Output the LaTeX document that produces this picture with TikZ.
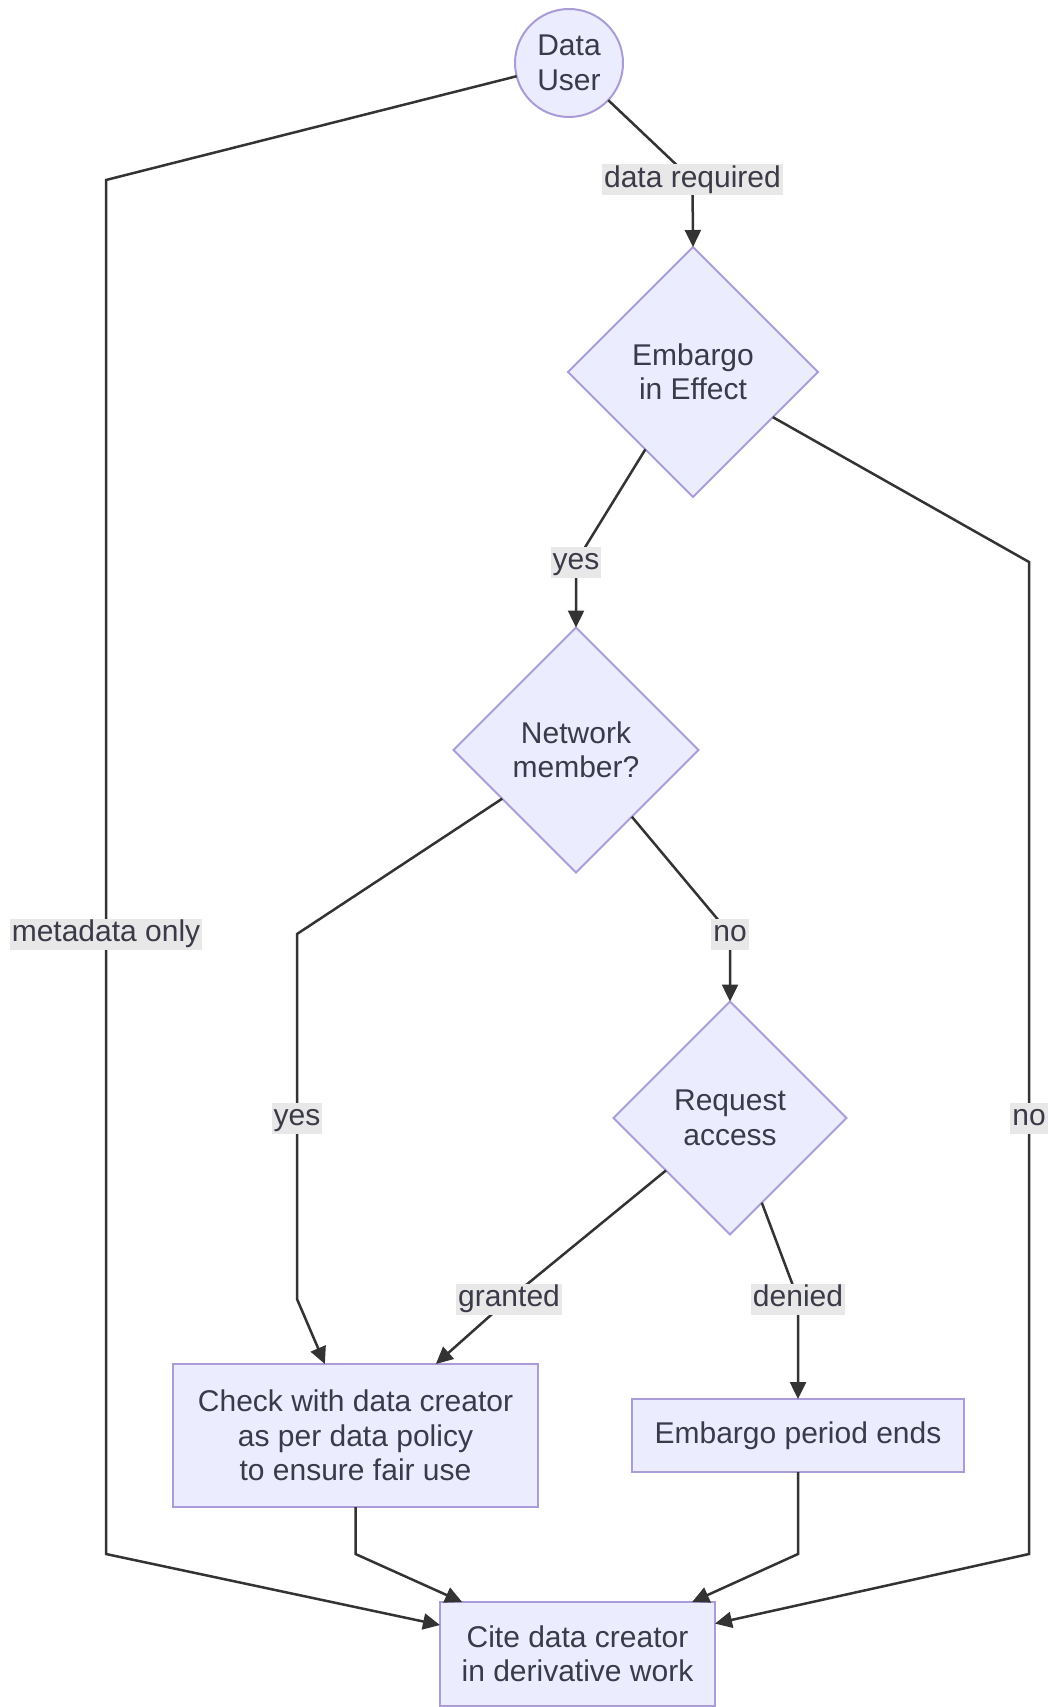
\documentclass[tikz,border=0pt]{standalone}
\usepackage{fontspec}
\setmainfont{Liberation Sans}
\usetikzlibrary{shapes.geometric,arrows.meta}
\definecolor{nfill}{HTML}{ECECFF}
\definecolor{nline}{HTML}{A99CD8}
\definecolor{ecol}{HTML}{333333}
\definecolor{tcol}{HTML}{3A3A48}
\definecolor{lbg}{HTML}{E8E8E8}
\tikzset{
  base/.style={draw=nline,fill=nfill,line width=2pt,text=tcol,align=center,inner sep=0pt,outer sep=0pt,
    font=\fontsize{30}{34.5}\selectfont},
  circ/.style={base,circle,minimum size=108pt},
  dia/.style={base,diamond,aspect=1},
  boxn/.style={base,rectangle},
  edge/.style={draw=ecol,line width=2.5pt,-{Triangle[length=17pt,width=16pt]}},
  lbl/.style={fill=lbg,text=tcol,inner xsep=2pt,inner ysep=1pt,text height=22pt,text depth=7pt,
    font=\fontsize{30}{34}\selectfont}
}
\begin{document}
\begin{tikzpicture}[x=1pt,y=-1pt]
\useasboundingbox (0,0) rectangle (1051,1707);
% nodes
\node[circ] (user) at (569,63) {Data\\User};
\node[dia,minimum width=250pt,minimum height=250pt] (embargo) at (693,372) {Embargo\\in Effect};
\node[dia,minimum width=245pt,minimum height=245pt] (network) at (576,750) {Network\\member?};
\node[dia,minimum width=233pt,minimum height=233pt] (request) at (730,1118) {Request\\access};
\node[boxn,minimum width=365pt,minimum height=143pt] (check) at (355.5,1435.5) {Check with data creator\\as per data policy\\to ensure fair use};
\node[boxn,minimum width=332pt,minimum height=73pt] (ends) at (798,1435.5) {Embargo period ends};
\node[boxn,minimum width=275pt,minimum height=104pt] (cite) at (577.5,1654) {Cite data creator\\in derivative work};
% bend coordinates
\coordinate (a1) at (106,180);
\coordinate (a2) at (106,1554);
\coordinate (b1) at (692.5,180);
\coordinate (c1) at (576,562);
\coordinate (d1) at (1029,562);
\coordinate (d2) at (1029,1554);
\coordinate (e1) at (297,934);
\coordinate (e2) at (297,1299);
\coordinate (f1) at (730,934);
\coordinate (g1) at (509,1299);
\coordinate (h1) at (798,1299);
\coordinate (i1) at (355.5,1554);
\coordinate (j1) at (798,1554);
% edges
\draw[edge] (user) -- (a1) -- (a2) -- (cite);
\draw[edge] (user) -- (b1) -- (embargo.north);
\draw[edge] (embargo) -- (c1) -- (network.north);
\draw[edge] (embargo) -- (d1) -- (d2) -- (cite);
\draw[edge] (network) -- (e1) -- (e2) -- (check);
\draw[edge] (network) -- (f1) -- (request.north);
\draw[edge] (request) -- (g1) -- (check);
\draw[edge] (request) -- (h1) -- (ends.north);
\draw[edge] (check.south) -- (i1) -- (cite);
\draw[edge] (ends.south) -- (j1) -- (cite);
% labels
\node[lbl] (l1) at (106,934) {metadata only};
\node[lbl] (l2) at (692.5,180) {data required};
\node[lbl] (l3) at (576,562) {yes};
\node[lbl] (l4) at (1029,1118) {no};
\node[lbl] (l5) at (297,1118) {yes};
\node[lbl] (l6) at (730,934) {no};
\node[lbl] (l7) at (509,1299) {granted};
\node[lbl] (l8) at (798,1299) {denied};
\end{tikzpicture}
\end{document}
